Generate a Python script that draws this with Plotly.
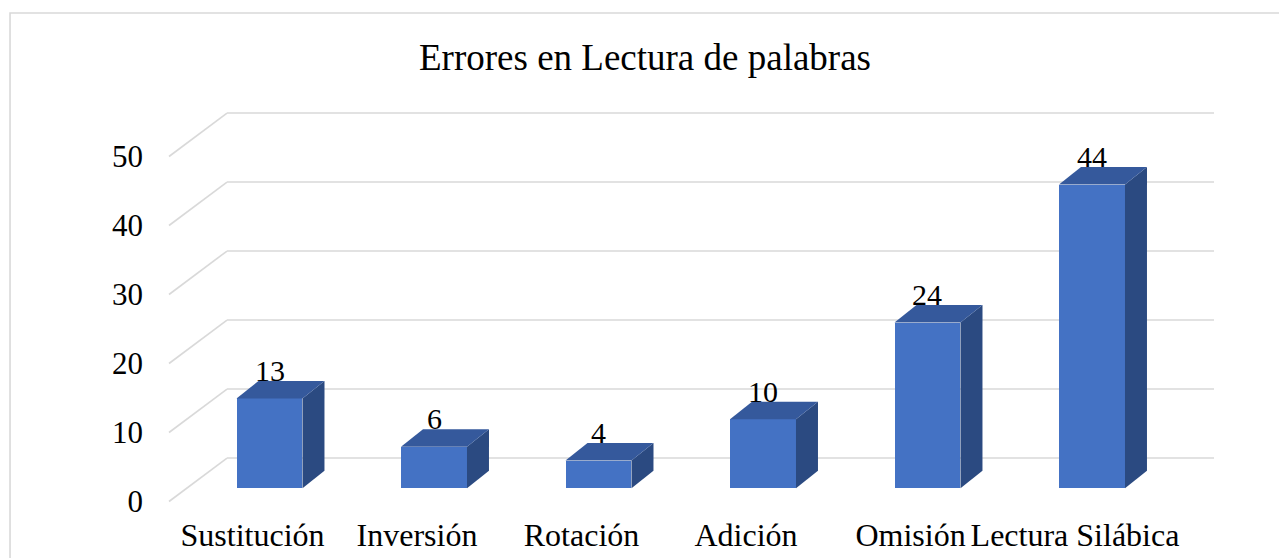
import plotly.graph_objects as go

# ---------------- data ----------------
categories = ["Sustitución", "Inversión", "Rotación", "Adición", "Omisión", "Lectura Silábica"]
values = [13, 6, 4, 10, 24, 44]
y_ticks = [0, 10, 20, 30, 40, 50]
title_text = "Errores en Lectura de palabras"

# ---------------- pseudo-3D geometry (axis units) ----------------
BAR_W = 0.401         # front face width
BAR_SHIFT_X = 0.1033  # front face offset behind the axis plane
BAR_SHIFT_Y = 1.93
DEPTH_X = 0.1337      # bar depth
DEPTH_Y = 2.54
WALL_X0 = -0.5076     # left front edge of floor/side wall
WALL_DX = 0.3526      # back wall offset
WALL_DY = 6.30
WALL_X1 = 5.845       # right end of back wall

FRONT = "#4472C4"
TOP = "#35599C"
SIDE = "#2B4A81"
GRID = "#D9D9D9"
FONT = "Liberation Serif"

fig = go.Figure()

# front faces
xs_front = [i + BAR_SHIFT_X for i in range(len(values))]
fig.add_trace(go.Bar(
    x=xs_front, y=values, base=[BAR_SHIFT_Y] * len(values), width=BAR_W,
    marker=dict(color=FRONT, line=dict(width=0)), hoverinfo="skip", showlegend=False))

# side and top faces
for xc, v in zip(xs_front, values):
    xl, xr = xc - BAR_W / 2, xc + BAR_W / 2
    y0, y1 = BAR_SHIFT_Y, BAR_SHIFT_Y + v
    fig.add_trace(go.Scatter(
        x=[xr, xr + DEPTH_X, xr + DEPTH_X, xr, xr],
        y=[y0, y0 + DEPTH_Y, y1 + DEPTH_Y, y1, y0],
        fill="toself", fillcolor=SIDE, mode="lines", line=dict(width=0, color=SIDE),
        hoverinfo="skip", showlegend=False))
    fig.add_trace(go.Scatter(
        x=[xl, xl + DEPTH_X, xr + DEPTH_X, xr, xl],
        y=[y1, y1 + DEPTH_Y, y1 + DEPTH_Y, y1, y1],
        fill="toself", fillcolor=TOP, mode="lines", line=dict(width=0, color=TOP),
        hoverinfo="skip", showlegend=False))

# data labels
for xc, v in zip(xs_front, values):
    fig.add_annotation(x=xc, y=v + BAR_SHIFT_Y + DEPTH_Y, text=str(v), showarrow=False,
                       xanchor="center", yanchor="bottom", yshift=-8,
                       font=dict(family=FONT, size=30, color="#000000"))

# gridlines on side wall and back wall (below traces)
shapes = []
for t in y_ticks:
    shapes.append(dict(type="line", xref="x", yref="y", layer="below",
                       x0=WALL_X0, y0=t, x1=WALL_X0 + WALL_DX, y1=t + WALL_DY,
                       line=dict(color=GRID, width=1.6)))
    shapes.append(dict(type="line", xref="x", yref="y", layer="below",
                       x0=WALL_X0 + WALL_DX, y0=t + WALL_DY, x1=WALL_X1, y1=t + WALL_DY,
                       line=dict(color=GRID, width=1.6)))
# chart border
shapes.append(dict(type="rect", xref="paper", yref="paper", layer="below",
                   x0=-0.1427, y0=-0.3, x1=1.2, y1=(505 - 5) / 405,
                   line=dict(color=GRID, width=1.6), fillcolor="rgba(0,0,0,0)"))

fig.update_layout(
    width=1287, height=558,
    margin=dict(l=160, r=20, t=100, b=53),
    paper_bgcolor="white", plot_bgcolor="white",
    shapes=shapes,
    title=dict(text=title_text, x=637 / 1287, xanchor="center", xref="container",
               y=1 - 49 / 558, yanchor="middle", yref="container",
               font=dict(family=FONT, size=37, color="#000000")),
    xaxis=dict(range=[-0.5137, 6.2158], tickvals=list(range(len(categories))), ticktext=categories,
               showgrid=False, zeroline=False, showline=False, ticks="", automargin=False,
               tickfont=dict(family=FONT, size=32, color="#000000")),
    yaxis=dict(range=[-1.667, 57.03], tickvals=y_ticks, showgrid=False, zeroline=False,
               showline=False, ticks="", ticklabelstandoff=24, automargin=False,
               tickfont=dict(family=FONT, size=31, color="#000000")),
    bargap=0,
)

fig.write_html("out.html")
